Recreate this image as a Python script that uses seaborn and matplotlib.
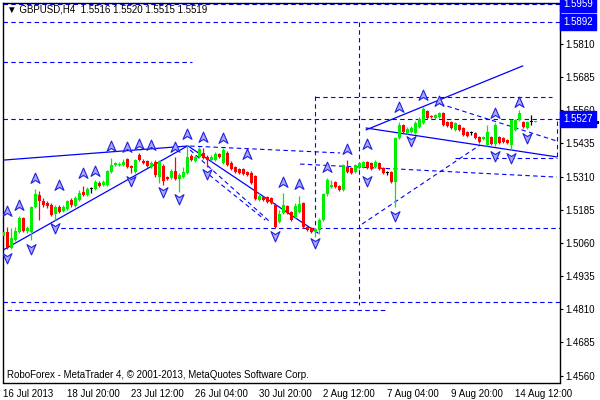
import matplotlib
matplotlib.use("Agg")
import matplotlib.pyplot as plt
import matplotlib.transforms as mtransforms
from matplotlib.path import Path
from matplotlib.patches import Rectangle
import numpy as np
import seaborn as sns

# GBPUSD H4 bars, 16 Jul - 14 Aug 2013
opens = [1.5086, 1.5101, 1.5041, 1.5071, 1.5101, 1.5154, 1.5105, 1.5101, 1.5195, 1.5240,
         1.5218, 1.5210, 1.5203, 1.5169, 1.5195, 1.5180, 1.5188, 1.5222, 1.5199, 1.5222,
         1.5252, 1.5240, 1.5263, 1.5263, 1.5286, 1.5278, 1.5278, 1.5327, 1.5354, 1.5354,
         1.5354, 1.5376, 1.5350, 1.5327, 1.5391, 1.5369, 1.5369, 1.5346, 1.5365, 1.5308,
         1.5350, 1.5308, 1.5305, 1.5331, 1.5301, 1.5308, 1.5323, 1.5388, 1.5369, 1.5384,
         1.5399, 1.5384, 1.5372, 1.5372, 1.5395, 1.5361, 1.5399, 1.5361, 1.5346, 1.5339,
         1.5339, 1.5327, 1.5323, 1.5312, 1.5222, 1.5233, 1.5233, 1.5229, 1.5203, 1.5139,
         1.5173, 1.5199, 1.5176, 1.5158, 1.5176, 1.5210, 1.5120, 1.5116, 1.5101, 1.5109,
         1.5146, 1.5244, 1.5271, 1.5289, 1.5274, 1.5259, 1.5346, 1.5342, 1.5327, 1.5342,
         1.5346, 1.5365, 1.5361, 1.5346, 1.5361, 1.5342, 1.5323, 1.5327, 1.5289, 1.5455,
         1.5504, 1.5474, 1.5478, 1.5474, 1.5497, 1.5512, 1.5557, 1.5538, 1.5531, 1.5535,
         1.5550, 1.5516, 1.5516, 1.5486, 1.5504, 1.5493, 1.5478, 1.5474, 1.5474, 1.5459,
         1.5452, 1.5429, 1.5459, 1.5433, 1.5459, 1.5455, 1.5448, 1.5429, 1.5486, 1.5523,
         1.5516, 1.5493, 1.5516, 1.5516]
highs = [1.5109, 1.5120, 1.5116, 1.5120, 1.5161, 1.5158, 1.5124, 1.5199, 1.5263, 1.5256,
         1.5229, 1.5218, 1.5210, 1.5203, 1.5203, 1.5203, 1.5222, 1.5229, 1.5237, 1.5259,
         1.5274, 1.5271, 1.5271, 1.5297, 1.5293, 1.5297, 1.5335, 1.5380, 1.5365, 1.5365,
         1.5376, 1.5380, 1.5354, 1.5376, 1.5399, 1.5376, 1.5372, 1.5369, 1.5372, 1.5372,
         1.5357, 1.5312, 1.5339, 1.5384, 1.5323, 1.5346, 1.5429, 1.5395, 1.5391, 1.5421,
         1.5418, 1.5391, 1.5391, 1.5403, 1.5399, 1.5418, 1.5406, 1.5369, 1.5350, 1.5342,
         1.5342, 1.5331, 1.5331, 1.5316, 1.5248, 1.5237, 1.5237, 1.5233, 1.5210, 1.5184,
         1.5248, 1.5203, 1.5180, 1.5210, 1.5237, 1.5214, 1.5124, 1.5120, 1.5116, 1.5154,
         1.5248, 1.5305, 1.5297, 1.5293, 1.5278, 1.5357, 1.5372, 1.5346, 1.5357, 1.5365,
         1.5369, 1.5369, 1.5365, 1.5372, 1.5365, 1.5346, 1.5331, 1.5331, 1.5459, 1.5516,
         1.5508, 1.5497, 1.5501, 1.5519, 1.5535, 1.5572, 1.5561, 1.5542, 1.5546, 1.5553,
         1.5553, 1.5519, 1.5519, 1.5516, 1.5508, 1.5497, 1.5482, 1.5482, 1.5478, 1.5463,
         1.5463, 1.5504, 1.5463, 1.5512, 1.5463, 1.5459, 1.5452, 1.5527, 1.5527, 1.5561,
         1.5519, 1.5519, 1.5542, 1.5520]
lows = [1.5078, 1.5037, 1.5037, 1.5067, 1.5097, 1.5101, 1.5097, 1.5071, 1.5192, 1.5146,
        1.5195, 1.5192, 1.5161, 1.5146, 1.5173, 1.5176, 1.5184, 1.5195, 1.5195, 1.5218,
        1.5237, 1.5237, 1.5248, 1.5259, 1.5271, 1.5274, 1.5274, 1.5323, 1.5350, 1.5350,
        1.5350, 1.5342, 1.5323, 1.5323, 1.5369, 1.5357, 1.5346, 1.5342, 1.5308, 1.5286,
        1.5278, 1.5297, 1.5301, 1.5297, 1.5252, 1.5305, 1.5320, 1.5369, 1.5365, 1.5380,
        1.5376, 1.5346, 1.5369, 1.5369, 1.5380, 1.5357, 1.5350, 1.5335, 1.5323, 1.5320,
        1.5316, 1.5312, 1.5282, 1.5222, 1.5218, 1.5218, 1.5210, 1.5207, 1.5116, 1.5135,
        1.5169, 1.5169, 1.5142, 1.5154, 1.5173, 1.5116, 1.5105, 1.5097, 1.5082, 1.5093,
        1.5142, 1.5237, 1.5267, 1.5267, 1.5256, 1.5256, 1.5323, 1.5320, 1.5323, 1.5339,
        1.5342, 1.5339, 1.5335, 1.5342, 1.5335, 1.5320, 1.5316, 1.5286, 1.5195, 1.5452,
        1.5474, 1.5470, 1.5474, 1.5470, 1.5493, 1.5508, 1.5527, 1.5531, 1.5527, 1.5531,
        1.5501, 1.5497, 1.5489, 1.5482, 1.5482, 1.5463, 1.5459, 1.5467, 1.5452, 1.5437,
        1.5448, 1.5425, 1.5429, 1.5425, 1.5433, 1.5437, 1.5433, 1.5410, 1.5482, 1.5519,
        1.5493, 1.5489, 1.5504, 1.5515]
closes = [1.5101, 1.5041, 1.5078, 1.5105, 1.5154, 1.5105, 1.5116, 1.5195, 1.5244, 1.5218,
          1.5203, 1.5199, 1.5165, 1.5195, 1.5176, 1.5195, 1.5218, 1.5203, 1.5229, 1.5248,
          1.5240, 1.5263, 1.5263, 1.5289, 1.5274, 1.5289, 1.5331, 1.5354, 1.5361, 1.5357,
          1.5365, 1.5346, 1.5342, 1.5372, 1.5372, 1.5361, 1.5350, 1.5361, 1.5316, 1.5369,
          1.5293, 1.5301, 1.5331, 1.5301, 1.5316, 1.5327, 1.5384, 1.5372, 1.5384, 1.5414,
          1.5380, 1.5372, 1.5384, 1.5395, 1.5384, 1.5410, 1.5354, 1.5339, 1.5327, 1.5323,
          1.5320, 1.5316, 1.5286, 1.5225, 1.5237, 1.5222, 1.5214, 1.5210, 1.5120, 1.5169,
          1.5203, 1.5173, 1.5146, 1.5199, 1.5207, 1.5120, 1.5109, 1.5101, 1.5112, 1.5146,
          1.5244, 1.5297, 1.5278, 1.5271, 1.5259, 1.5354, 1.5327, 1.5323, 1.5354, 1.5361,
          1.5365, 1.5342, 1.5339, 1.5365, 1.5339, 1.5323, 1.5323, 1.5289, 1.5455, 1.5504,
          1.5478, 1.5489, 1.5493, 1.5512, 1.5527, 1.5565, 1.5531, 1.5535, 1.5542, 1.5550,
          1.5504, 1.5501, 1.5493, 1.5512, 1.5486, 1.5467, 1.5463, 1.5474, 1.5455, 1.5440,
          1.5459, 1.5478, 1.5433, 1.5504, 1.5437, 1.5440, 1.5437, 1.5523, 1.5523, 1.5550,
          1.5497, 1.5516, 1.5516, 1.5519]

# fractal arrows (bar index, price of the arrow)
up_idx = [1, 4, 8, 14, 20, 23, 27, 31, 34, 37, 43, 46, 50, 55, 61, 70, 74, 81, 86, 91,
          99, 105, 109, 123, 129]
up_price = [1.5176, 1.5199, 1.5301, 1.5274, 1.5320, 1.5327, 1.5421, 1.5418, 1.5429, 1.5425,
            1.5418, 1.5467, 1.5455, 1.5452, 1.5391, 1.5286, 1.5278, 1.5342, 1.5410, 1.5429,
            1.5568, 1.5614, 1.5591, 1.5546, 1.5587]
dn_idx = [1, 7, 13, 32, 40, 44, 51, 68, 78, 91, 98, 102, 123, 127, 131]
dn_price = [1.5007, 1.5041, 1.5120, 1.5297, 1.5256, 1.5229, 1.5323, 1.5090, 1.5063, 1.5297,
            1.5165, 1.5448, 1.5391, 1.5384, 1.5459]

# trend lines (start bar, start price, end bar, end price)
solid_lines = [(-0.1, 1.5372, 46.0, 1.5425),
               (-0.1, 1.5033, 46.0, 1.5425),
               (46.2, 1.5425, 78.7, 1.5097),
               (90.7, 1.5486, 129.9, 1.5727),
               (90.7, 1.5493, 138.4, 1.5384)]
dashed_lines = [(0.0, 1.5742, 47.2, 1.5742),
                (12.4, 1.5116, 139.2, 1.5116),
                (-0.1, 1.4837, 139.2, 1.4837),
                (0.9, 1.4807, 96.2, 1.4807),
                (88.9, 1.5892, 88.9, 1.4826),
                (77.9, 1.5614, 77.9, 1.5109),
                (77.9, 1.5610, 137.2, 1.5610),
                (113.0, 1.5380, 138.4, 1.5380),
                (138.4, 1.5519, 138.4, 1.5384),
                (74.2, 1.5357, 138.4, 1.5308),
                (46.7, 1.5425, 84.2, 1.5399),
                (46.7, 1.5410, 66.7, 1.5139),
                (51.5, 1.5316, 65.5, 1.5146),
                (89.7, 1.5131, 119.2, 1.5429),
                (109.2, 1.5584, 138.4, 1.5444),
                (-0.1, 1.5959, 139.2, 1.5959),
                (-0.1, 1.5892, 139.2, 1.5892),
                (-0.1, 1.5527, 139.2, 1.5527)]

level_labels = [1.5959, 1.5892, 1.5527]
bid_price = 1.5519

y_ticks = [1.4560, 1.4685, 1.4810, 1.4935, 1.5060, 1.5185, 1.5310, 1.5435, 1.5560,
           1.5685, 1.5810]
x_tick_idx = [0, 16, 32, 48, 64, 80, 96, 112, 128]
x_tick_labels = ["16 Jul 2013", "18 Jul 20:00", "23 Jul 12:00", "26 Jul 04:00",
                 "30 Jul 20:00", "2 Aug 12:00", "7 Aug 04:00", "9 Aug 20:00",
                 "14 Aug 12:00"]

sns.set_style("white")
plt.rcParams['font.family'] = ['Liberation Sans', 'DejaVu Sans']
FS = 7

fig = plt.figure(figsize=(6, 4), dpi=100)
ax = fig.add_axes([3 / 600, 17.5 / 400, 557 / 600, 379.5 / 400])
ax.set_xlim(-0.1, 139.2)
ax.set_ylim(1.4534, 1.5964)

BLUE = '#0000ff'
dash = (0, (4, 3))

# lines first, candles over them
for x0, y0, x1, y1 in dashed_lines:
    ax.plot([x0, x1], [y0, y1], color=BLUE, lw=0.8, ls=dash, zorder=1)
for x0, y0, x1, y1 in solid_lines:
    ax.plot([x0, x1], [y0, y1], color=BLUE, lw=0.9, zorder=1)

idx = np.arange(len(opens))
o = np.array(opens)
c = np.array(closes)
colors = np.where(c > o, '#00ee00', np.where(c < o, '#ff0000', '#000000'))
ax.vlines(idx, lows, highs, colors=colors, lw=0.9, zorder=2)
body = np.maximum(np.abs(c - o), 0.0004)
ax.bar(idx, body, bottom=np.minimum(o, c), width=0.75, color=colors, lw=0, zorder=3)

# fractals
up_arrow = Path([(0, 1), (0.7, -0.6), (0, -0.15), (-0.7, -0.6), (0, 1)],
                [Path.MOVETO, Path.LINETO, Path.LINETO, Path.LINETO, Path.CLOSEPOLY])
dn_arrow = Path([(0, -1), (0.7, 0.6), (0, 0.15), (-0.7, 0.6), (0, -1)],
                [Path.MOVETO, Path.LINETO, Path.LINETO, Path.LINETO, Path.CLOSEPOLY])
sns.scatterplot(x=up_idx, y=up_price, marker=up_arrow, s=85, color='#a8a8ff',
                edgecolor='#2020e0', linewidth=0.8, ax=ax, zorder=4)
sns.scatterplot(x=dn_idx, y=dn_price, marker=dn_arrow, s=85, color='#a8a8ff',
                edgecolor='#2020e0', linewidth=0.8, ax=ax, zorder=4)

# axes
for sp in ax.spines.values():
    sp.set_color('black')
    sp.set_linewidth(1)
ax.yaxis.tick_right()
ax.set_yticks(y_ticks)
ax.set_yticklabels([f"{v:.4f}" for v in y_ticks])
ax.set_xticks(x_tick_idx)
ax.set_xticklabels(x_tick_labels, ha='left')
ax.tick_params(axis='y', direction='out', length=2, width=0.8, pad=2, labelsize=FS,
               colors='black')
ax.tick_params(axis='x', direction='out', length=4, width=0.8, pad=1, labelsize=FS,
               colors='black')
ax.set_xlabel('')
ax.set_ylabel('')
ax.grid(False)

# price labels on the right scale (bid box mostly hidden under the level box)
trans = mtransforms.blended_transform_factory(ax.transAxes, ax.transData)
ax.add_patch(Rectangle((1.002, bid_price - 0.0012), 0.068, 0.0012, transform=trans,
                       fc='black', ec='none', clip_on=False, zorder=5))
for lv in level_labels:
    ax.text(1.006, lv, f"{lv:.4f}", transform=trans, va='center', ha='left',
            fontsize=FS, color='white', clip_on=False, zorder=6,
            bbox=dict(boxstyle='square,pad=0.3', fc=BLUE, ec=BLUE))

fig.text(7 / 600, 1 - 10 / 400, "\u25BC GBPUSD,H4  1.5516 1.5520 1.5515 1.5519",
         fontsize=FS, va='center', ha='left', color='black')
fig.text(7 / 600, 1 - 375 / 400,
         "RoboForex - MetaTrader 4, \u00A9 2001-2013, MetaQuotes Software Corp.",
         fontsize=FS, va='center', ha='left', color='black')

fig.savefig('out.png', dpi=100)
